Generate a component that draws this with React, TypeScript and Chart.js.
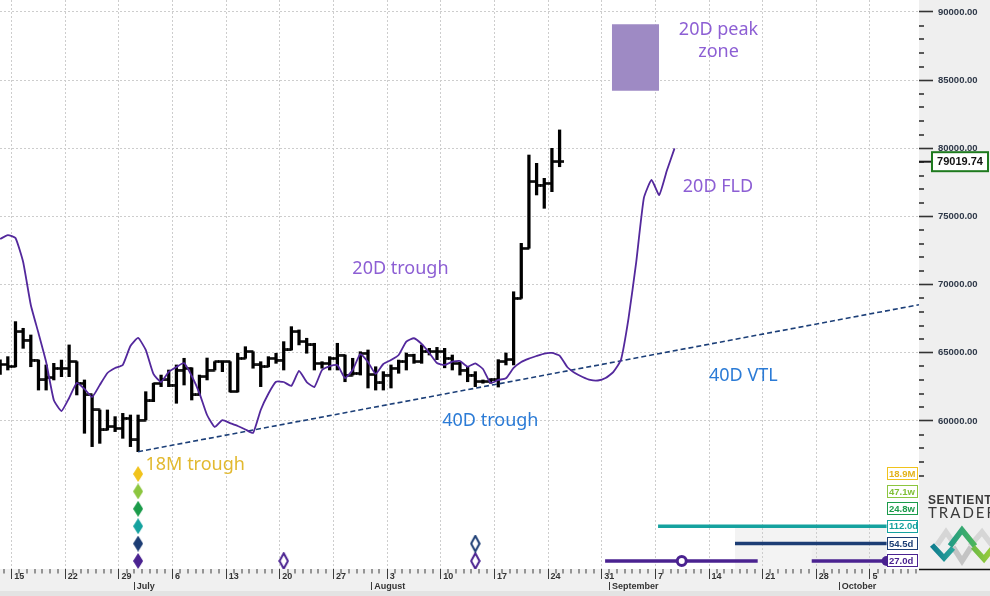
import { useEffect, useRef } from 'react';
import { Chart, registerables } from 'chart.js';

Chart.register(...registerables);

const W = 990;
const H = 596;

// ---------- calendar (day 0 = 15 June, a bar for day d sits at d + 0.5) ----------
const xMin = -1.52;
const xMax = 118.4;
const weekTickDays = [0, 7, 14, 21, 28, 35, 42, 49, 56, 63, 70, 77, 84, 91, 98, 105, 112];
const weekTickLabels = ['15', '22', '29', '6', '13', '20', '27', '3', '10', '17', '24', '31', '7', '14', '21', '28', '5'];
const monthTickDays = [16, 47, 78, 108];
const monthTickLabels = ['July', 'August', 'September', 'October'];

// ---------- price scale ----------
const yMin = 49144;
const yMax = 90880;
const priceMajorTicks = [60000, 65000, 70000, 75000, 80000, 85000, 90000];

// ---------- daily OHLC bars, first bar = day -2 ----------
const firstBarDay = -2;
const barOpen = [
  64000, 64150, 64000, 66550, 65940, 64470, 63010, 63180, 63860, 63860,
  64350, 62760, 61910, 60810, 59340, 59580, 59460, 60200, 58610, 60070,
  61470, 62760, 63010, 62640, 63740, 63860, 61910, 63250, 63740, 64350,
  64350, 62150, 64600, 65080, 64110, 63980, 64600, 64470, 65210, 66550,
  65820, 65580, 64230, 64230, 64600, 64840, 63370, 63500, 64970, 63400,
  62800, 63370, 63870, 64350, 64840, 64350, 65080, 65080, 65080, 64600,
  64230, 63740, 63370, 62880, 62880, 63010, 64350, 64500, 69000, 72670,
  77550, 77310, 77440, 79020,
];
const barHigh = [
  64480, 64720, 67290, 66800, 66310, 64470, 64110, 64230, 64470, 65580,
  64350, 63010, 61910, 60810, 60810, 60320, 60560, 60440, 60440, 62150,
  62760, 63370, 63740, 64110, 64600, 63900, 63370, 64620, 64350, 64350,
  64350, 64970, 65450, 65080, 64350, 64720, 64970, 65820, 66920, 66680,
  66070, 65700, 64350, 64720, 65700, 64840, 64600, 65080, 65210, 63980,
  63620, 64110, 64470, 64990, 64900, 65580, 65330, 65400, 65330, 64840,
  64300, 63980, 63620, 63010, 63100, 64500, 64990, 69480, 73030, 79510,
  78900, 77800, 80000, 81350,
];
const barLow = [
  63420, 63740, 63980, 65330, 63980, 62270, 62270, 63010, 63250, 63250,
  61910, 59100, 58120, 58360, 59340, 59220, 58730, 58120, 57750, 60070,
  61420, 62520, 62520, 61300, 62640, 61540, 61910, 63010, 63740, 63620,
  62130, 62130, 64600, 63870, 62520, 63980, 64230, 63740, 65210, 65580,
  64970, 63740, 63870, 63740, 63740, 62880, 63370, 63370, 62420, 62270,
  62270, 62420, 63500, 63740, 64230, 64230, 64840, 64500, 63900, 63740,
  63370, 62880, 62520, 62770, 62770, 62490, 64110, 64110, 69000, 72670,
  76580, 75600, 76820, 78650,
];
const barClose = [
  64150, 64000, 66550, 65940, 64470, 63010, 63180, 63860, 63860, 64350,
  62760, 61910, 60810, 59340, 59580, 59460, 60200, 58610, 60070, 61470,
  62760, 63010, 62640, 63740, 63860, 61910, 63250, 63740, 64350, 64350,
  62150, 64600, 65080, 64110, 63980, 64600, 64470, 65210, 66550, 65820,
  65580, 64230, 64230, 64600, 64840, 63370, 63500, 64970, 63400, 62800,
  63370, 63870, 64350, 64840, 64350, 65080, 65080, 65080, 64600, 64230,
  63740, 63370, 62880, 62880, 63010, 64350, 64500, 69000, 72670, 77550,
  77310, 77440, 79020, 79020,
];
const lastPrice = 79019.74;

// ---------- 20D FLD, first point = day -2 ----------
const fldFirstDay = -2;
const fldValues = [
  73350, 73640, 73420, 71660, 68510, 66450, 64330, 61540, 60730, 61690,
  62790, 62350, 61760, 62640, 63520, 63890, 64110, 65500, 66090, 65210,
  63450, 62860, 63600, 63960, 64250, 63300, 62050, 60440, 59560, 60070,
  59850, 59630, 59380, 59120, 60810, 62000, 62880, 62860, 62570, 63670,
  62860, 62490, 63740, 64030, 64110, 63150, 63740, 64910, 64330, 63450,
  64180, 64470, 64840, 65820, 66070, 65650, 64990, 64250, 64110, 64350,
  64400, 63980, 64230, 63810, 62790, 63010, 63130, 63890, 64330, 64580,
  64770, 64950, 64990, 64800, 63960, 63520, 63230, 63010, 62970, 63150,
  63590, 64470, 67550, 71660, 76360, 77680, 76580, 78370, 80000,
];

// ---------- 40D VTL ----------
const vtlDays = [16.5, 118.4];
const vtlPrices = [57750, 68530];

// ---------- 20D peak zone ----------
const peakZoneDays = [78.32, 84.49];
const peakZonePrices = [84230, 89100];

// ---------- cycle panel (row 0 = bottom) ----------
const ycMin = -0.46;
const ycMax = 32.24;
const cycleRowLabels = ['27.0d', '54.5d', '112.0d', '24.8w', '47.1w', '18.9M'];
const cycleRowColors = ['#4a2290', '#1c3d74', '#15a29f', '#1b9b4a', '#8cc63f', '#f1c31c'];
const cycleTextColors = ['#4a2290', '#1c3d74', '#15a29f', '#1b9b4a', '#80bf35', '#e3b31a'];
const troughDay = 16.5;
const troughRows = [0, 1, 2, 3, 4, 5];
const outlineDiamondDays = [35.5, 60.5, 60.5];
const outlineDiamondRows = [0, 0, 1];
const spanRows = [2, 1, 0, 0];
const spanFrom = [84.35, 94.39, 77.44, 104.4];
const spanTo = [114.17, 114.17, 97.35, 114.17];
const projectedDay = 87.44;
const projectedRow = 0;
const spanEndDay = 114.17;

// ---------- text annotations (anchor = baseline) ----------
const purpleText = '#8d5fd4';
const blueText = '#2b7bd6';
const goldText = '#e2b92f';
const annTexts = ['20D peak', 'zone', '20D FLD', '20D trough', '40D trough', '40D VTL', '18M trough'];
const annDays = [92.24, 92.24, 87.58, 44.46, 56.19, 91.0, 17.47];
const annPrices = [88313, 86721, 76797, 70782, 59633, 62934, 56406];
const annAlign: CanvasTextAlign[] = ['center', 'center', 'left', 'left', 'left', 'left', 'left'];
const annColors = [purpleText, purpleText, purpleText, purpleText, blueText, blueText, goldText];

// ---------- helpers ----------
function tickImage(side: 'left' | 'right'): HTMLCanvasElement {
  const c = document.createElement('canvas');
  c.width = 8;
  c.height = 3;
  const g = c.getContext('2d')!;
  g.fillStyle = '#000';
  if (side === 'left') g.fillRect(0, 0.25, 4.4, 2.5);
  else g.fillRect(3.6, 0.25, 4.4, 2.5);
  return c;
}

function diamondImage(w: number, h: number, fill: string, stroke: string | null, lw: number): HTMLCanvasElement {
  const c = document.createElement('canvas');
  c.width = w;
  c.height = h;
  const g = c.getContext('2d')!;
  const m = stroke ? lw / 2 + 0.3 : 0;
  g.beginPath();
  g.moveTo(w / 2, m);
  g.lineTo(w - m, h / 2);
  g.lineTo(w / 2, h - m);
  g.lineTo(m, h / 2);
  g.closePath();
  g.fillStyle = fill;
  g.fill();
  if (stroke) {
    g.lineWidth = lw;
    g.strokeStyle = stroke;
    g.lineJoin = 'miter';
    g.stroke();
  }
  return c;
}

const isWeek = (v: number) => weekTickDays.indexOf(v) >= 0;
const isMajor = (v: number) => priceMajorTicks.indexOf(v) >= 0;

function zeroPad(s: any) {
  s.paddingLeft = 0;
  s.paddingRight = 0;
  s.paddingTop = 0;
  s.paddingBottom = 0;
}

function drawLogo(ctx: CanvasRenderingContext2D, left: number, bottom: number) {
  ctx.save();
  ctx.beginPath();
  ctx.rect(left, 470, W - left, bottom - 470);
  ctx.clip();
  ctx.fillStyle = '#3a3a3a';
  ctx.textAlign = 'left';
  ctx.textBaseline = 'alphabetic';
  ctx.font = 'bold 12px "Liberation Sans", Arial, sans-serif';
  (ctx as any).letterSpacing = '0.6px';
  ctx.fillText('SENTIENT', 928, 504);
  ctx.font = '400 15px Lato, "Noto Sans", sans-serif';
  (ctx as any).letterSpacing = '2px';
  ctx.fillText('TRADER', 928, 518);
  (ctx as any).letterSpacing = '0px';
  ctx.lineWidth = 5.5;
  ctx.lineJoin = 'miter';
  ctx.lineCap = 'butt';
  const seg = (pts: number[][], color: string | CanvasGradient) => {
    ctx.beginPath();
    ctx.moveTo(pts[0][0], pts[0][1]);
    for (let i = 1; i < pts.length; i++) ctx.lineTo(pts[i][0], pts[i][1]);
    ctx.strokeStyle = color;
    ctx.stroke();
  };
  seg([[937, 545], [946, 532], [955, 545]], '#d6d6d6');
  seg([[953, 547], [962, 561], [971, 547]], '#c4c4c4');
  seg([[970, 546], [982, 532], [992, 545]], '#d6d6d6');
  const g1 = ctx.createLinearGradient(932, 0, 953, 0);
  g1.addColorStop(0, '#0f7c8e');
  g1.addColorStop(1, '#2aa59b');
  seg([[932, 545], [944, 558], [953, 548]], g1);
  const g2 = ctx.createLinearGradient(950, 0, 975, 0);
  g2.addColorStop(0, '#239c86');
  g2.addColorStop(1, '#4bb55c');
  seg([[950, 546], [962, 530], [975, 546]], g2);
  const g3 = ctx.createLinearGradient(973, 0, 991, 0);
  g3.addColorStop(0, '#6cbb45');
  g3.addColorStop(1, '#9acb3b');
  seg([[973, 547], [984, 559], [992, 549]], g3);
  ctx.restore();
}

const overlayPlugin = {
  id: 'overlay',
  beforeDraw(chart: any) {
    const { ctx, chartArea: a, scales } = chart;
    const x = scales.x;
    const yc = scales.yc;
    ctx.save();
    ctx.fillStyle = '#ffffff';
    ctx.fillRect(0, 0, W, H);
    ctx.fillStyle = '#efefef';
    ctx.fillRect(a.right, 0, W - a.right, H);
    ctx.fillStyle = '#f0f0f0';
    ctx.fillRect(0, a.bottom, W, H - a.bottom);
    ctx.fillStyle = '#e3e3e3';
    ctx.fillRect(0, H - 5, W, 5);
    // light shading behind the projected cycle spans
    ctx.fillStyle = '#f3f3f3';
    const x1 = x.getPixelForValue(spanFrom[1]);
    const x2 = x.getPixelForValue(spanTo[1]);
    const t1 = yc.getPixelForValue(2) + 1.5;
    ctx.fillRect(x1, t1, x2 - x1, a.bottom - t1);
    const x3 = x.getPixelForValue(spanFrom[3]);
    const t2 = yc.getPixelForValue(1) + 3;
    ctx.fillStyle = '#efefef';
    ctx.fillRect(x3, t2, x2 - x3, a.bottom - t2);
    ctx.restore();
  },
  afterDatasetsDraw(chart: any) {
    const { ctx, chartArea: a, scales } = chart;
    const x = scales.x;
    const y = scales.y;
    const yc = scales.yc;
    ctx.save();
    // annotations
    ctx.font = '18px "Noto Sans", sans-serif';
    ctx.textBaseline = 'alphabetic';
    for (let i = 0; i < annTexts.length; i++) {
      ctx.fillStyle = annColors[i];
      ctx.textAlign = annAlign[i];
      ctx.fillText(annTexts[i], x.getPixelForValue(annDays[i]), y.getPixelForValue(annPrices[i]));
    }
    // cycle length boxes
    ctx.font = 'bold 9.5px "Liberation Sans", Arial, sans-serif';
    ctx.textAlign = 'left';
    ctx.textBaseline = 'middle';
    for (let r = 0; r < cycleRowLabels.length; r++) {
      const cy = yc.getPixelForValue(r);
      const bx = a.right - 32;
      const bw = 31;
      const bh = 13;
      ctx.fillStyle = '#ffffff';
      ctx.fillRect(bx, cy - bh / 2, bw, bh);
      ctx.strokeStyle = cycleRowColors[r];
      ctx.lineWidth = 1;
      ctx.strokeRect(bx + 0.5, Math.round(cy - bh / 2) + 0.5, bw - 1, bh - 1);
      ctx.fillStyle = cycleTextColors[r];
      ctx.fillText(cycleRowLabels[r], bx + 2, cy + 0.5);
    }
    ctx.restore();
  },
  afterDraw(chart: any) {
    const { ctx, chartArea: a, scales } = chart;
    const y = scales.y;
    ctx.save();
    // current price marker
    const py = y.getPixelForValue(lastPrice);
    ctx.strokeStyle = '#1a1a1a';
    ctx.lineWidth = 2;
    ctx.beginPath();
    ctx.moveTo(a.right, py);
    ctx.lineTo(a.right + 13, py);
    ctx.stroke();
    const bx = a.right + 13;
    const bw = W - 2 - bx;
    ctx.fillStyle = '#ffffff';
    ctx.fillRect(bx, py - 10, bw, 20);
    ctx.strokeStyle = '#1e7a1e';
    ctx.lineWidth = 2;
    ctx.strokeRect(bx, py - 9.5, bw, 19);
    ctx.fillStyle = '#111111';
    ctx.font = 'bold 11px "Liberation Sans", Arial, sans-serif';
    ctx.textAlign = 'center';
    ctx.textBaseline = 'middle';
    ctx.fillText(lastPrice.toFixed(2), bx + bw / 2, py + 0.5);
    // panel bottom line
    ctx.strokeStyle = '#111111';
    ctx.lineWidth = 1.5;
    ctx.beginPath();
    ctx.moveTo(a.right, a.bottom + 0.5);
    ctx.lineTo(W, a.bottom + 0.5);
    ctx.stroke();
    ctx.restore();
    drawLogo(ctx, a.right, a.bottom);
  },
};

export default function App() {
  const ref = useRef<HTMLCanvasElement | null>(null);

  useEffect(() => {
    const canvas = ref.current;
    if (!canvas) return;

    const openImg = tickImage('left');
    const closeImg = tickImage('right');

    const barCenters = barClose.map((_, i) => firstBarDay + i + 0.5);
    const hlData = barCenters.map((t, i) => ({ x: t, y: [barLow[i], barHigh[i]] }));
    const openData = barCenters.map((t, i) => ({ x: t, y: barOpen[i] }));
    const closeData = barCenters.map((t, i) => ({ x: t, y: barClose[i] }));
    const fldData = fldValues.map((v, i) => ({ x: fldFirstDay + i + 0.5, y: v }));
    const vtlData = vtlDays.map((d, i) => ({ x: d, y: vtlPrices[i] }));
    const zoneData = peakZoneDays.map((d) => ({ x: d, y: peakZonePrices[1] }));

    const filledImgs = troughRows.map((r) => diamondImage(10, 16, cycleRowColors[r], null, 0));
    const outlineImgs = outlineDiamondRows.map((r) => diamondImage(11, 18, '#ffffff', cycleRowColors[r], 2));

    const spanDatasets = spanRows.map((r, i) => ({
      type: 'line' as const,
      yAxisID: 'yc',
      data: [
        { x: spanFrom[i], y: r },
        { x: spanTo[i], y: r },
      ],
      borderColor: cycleRowColors[r],
      borderWidth: 3.5,
      borderCapStyle: 'butt' as const,
      pointRadius: 0,
      order: 1,
    }));

    const dayTicks: number[] = [];
    for (let d = Math.ceil(xMin); d <= Math.floor(xMax); d++) dayTicks.push(d);
    const priceTicks: number[] = [];
    for (let p = 56000; p <= 90000; p += 1000) priceTicks.push(p);

    const tickFont = { family: '"Liberation Sans", Arial, sans-serif', size: 9, weight: 'bold' as const };
    const priceFont = { family: '"Liberation Sans", Arial, sans-serif', size: 9.5, weight: 'bold' as const };

    const chart = new Chart(canvas, {
      type: 'line',
      data: {
        datasets: [
          {
            type: 'scatter',
            yAxisID: 'yc',
            data: troughRows.map((r) => ({ x: troughDay, y: r })),
            pointStyle: filledImgs as any,
            pointRadius: 4,
            order: 0,
          } as any,
          {
            type: 'scatter',
            yAxisID: 'yc',
            data: outlineDiamondDays.map((d, i) => ({ x: d, y: outlineDiamondRows[i] })),
            pointStyle: outlineImgs as any,
            pointRadius: 4,
            order: 0,
          } as any,
          {
            type: 'scatter',
            yAxisID: 'yc',
            data: [{ x: projectedDay, y: projectedRow }],
            pointStyle: 'circle',
            pointRadius: 4.5,
            pointBorderWidth: 3,
            pointBorderColor: cycleRowColors[0],
            pointBackgroundColor: '#ffffff',
            order: 0,
          } as any,
          {
            type: 'scatter',
            yAxisID: 'yc',
            data: [{ x: spanEndDay, y: 0 }],
            pointStyle: 'circle',
            pointRadius: 5,
            pointBorderWidth: 0,
            pointBackgroundColor: cycleRowColors[0],
            order: 0.5,
          } as any,
          ...(spanDatasets as any[]),
          {
            type: 'line',
            data: fldData,
            borderColor: '#53289c',
            borderWidth: 1.8,
            pointRadius: 0,
            tension: 0.15,
            order: 2,
          } as any,
          {
            type: 'line',
            data: vtlData,
            borderColor: '#1c3f78',
            borderWidth: 1.6,
            borderDash: [5, 3],
            pointRadius: 0,
            order: 3,
          } as any,
          {
            type: 'scatter',
            data: openData,
            pointStyle: openImg as any,
            pointRadius: 4,
            order: 4,
          } as any,
          {
            type: 'scatter',
            data: closeData,
            pointStyle: closeImg as any,
            pointRadius: 4,
            order: 4,
          } as any,
          {
            type: 'bar',
            data: hlData,
            backgroundColor: '#000000',
            borderWidth: 0,
            barThickness: 2.6,
            order: 5,
          } as any,
          {
            type: 'line',
            data: zoneData,
            borderWidth: 0,
            pointRadius: 0,
            backgroundColor: '#9e8ac4',
            fill: { value: peakZonePrices[0] },
            order: 6,
          } as any,
        ],
      },
      options: {
        animation: false,
        responsive: false,
        maintainAspectRatio: false,
        events: [],
        layout: { padding: 0, autoPadding: false },
        plugins: {
          legend: { display: false },
          tooltip: { enabled: false },
        },
        scales: {
          x: {
            type: 'linear',
            position: 'bottom',
            min: xMin,
            max: xMax,
            offset: false,
            bounds: 'data',
            afterBuildTicks: (s: any) => {
              s.ticks = dayTicks.map((v) => ({ value: v }));
            },
            afterFit: (s: any) => {
              s.height = 13;
              zeroPad(s);
            },
            border: { display: false, dash: [2, 2] },
            grid: {
              offset: false,
              drawOnChartArea: true,
              color: (c: any) => (c.tick && isWeek(c.tick.value) ? '#cdcdcd' : 'rgba(0,0,0,0)'),
              lineWidth: (c: any) => (c.tick && isWeek(c.tick.value) ? 1 : 0),
              drawTicks: true,
              tickLength: 10,
              tickWidth: 1,
              tickColor: '#3a3a3a',
              tickBorderDash: (c: any) => (c.tick && isWeek(c.tick.value) ? [] : [4.5, 30]),
            },
            ticks: {
              autoSkip: false,
              maxRotation: 0,
              minRotation: 0,
              align: 'start',
              labelOffset: 2.5,
              padding: -8,
              font: tickFont,
              color: '#333333',
              callback: (v: any) => {
                const k = weekTickDays.indexOf(Number(v));
                return k >= 0 ? weekTickLabels[k] : '';
              },
            },
          } as any,
          xm: {
            type: 'linear',
            position: 'bottom',
            weight: 1,
            min: xMin,
            max: xMax,
            offset: false,
            bounds: 'data',
            afterBuildTicks: (s: any) => {
              s.ticks = monthTickDays.map((v) => ({ value: v }));
            },
            afterFit: (s: any) => {
              s.height = 14;
              zeroPad(s);
            },
            border: { display: false },
            grid: {
              drawOnChartArea: false,
              drawTicks: true,
              tickLength: 8,
              tickWidth: 1,
              tickColor: '#3a3a3a',
            },
            ticks: {
              autoSkip: false,
              maxRotation: 0,
              minRotation: 0,
              align: 'start',
              labelOffset: 2.5,
              padding: -9,
              font: tickFont,
              color: '#333333',
              callback: (v: any) => {
                const k = monthTickDays.indexOf(Number(v));
                return k >= 0 ? monthTickLabels[k] : '';
              },
            },
          } as any,
          y: {
            type: 'linear',
            position: 'right',
            min: yMin,
            max: yMax,
            bounds: 'data',
            afterBuildTicks: (s: any) => {
              s.ticks = priceTicks.map((v) => ({ value: v }));
            },
            afterFit: (s: any) => {
              s.width = 71;
              zeroPad(s);
            },
            border: { display: false, dash: [2, 2] },
            grid: {
              drawOnChartArea: true,
              color: (c: any) => (c.tick && isMajor(c.tick.value) ? '#cdcdcd' : 'rgba(0,0,0,0)'),
              lineWidth: (c: any) => (c.tick && isMajor(c.tick.value) ? 1 : 0),
              drawTicks: true,
              tickLength: 14,
              tickWidth: 1.6,
              tickColor: '#333333',
              tickBorderDash: (c: any) => (c.tick && isMajor(c.tick.value) ? [] : [5, 40]),
            },
            ticks: {
              autoSkip: false,
              padding: 5,
              font: priceFont,
              color: '#2e3848',
              callback: (v: any) => (isMajor(Number(v)) ? Number(v).toFixed(2) : ''),
            },
          } as any,
          yc: {
            type: 'linear',
            position: 'left',
            display: false,
            min: ycMin,
            max: ycMax,
            bounds: 'data',
            afterFit: (s: any) => {
              s.width = 0;
              zeroPad(s);
            },
          } as any,
        },
      },
      plugins: [overlayPlugin as any],
    });

    return () => {
      chart.destroy();
    };
  }, []);

  return (
    <div style={{ position: 'absolute', left: 0, top: 0, width: W, height: H }}>
      <canvas ref={ref} width={W} height={H} style={{ display: 'block', width: W, height: H }} />
    </div>
  );
}
